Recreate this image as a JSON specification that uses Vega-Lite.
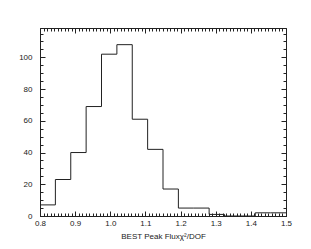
{
  "$schema": "https://vega.github.io/schema/vega-lite/v6.json",
  "width": 246,
  "height": 188,
  "autosize": "none",
  "padding": {"left": 40, "top": 28, "right": 25, "bottom": 33},
  "background": "white",
  "config": {
    "view": {"stroke": "#222222", "strokeWidth": 1},
    "font": "Liberation Sans",
    "axis": {
      "domain": false,
      "grid": false,
      "tickColor": "#222222",
      "labelColor": "#222222",
      "titleColor": "#222222",
      "labelFont": "Liberation Sans",
      "titleFont": "Liberation Sans",
      "labelFontSize": 8,
      "titleFontSize": 8,
      "titleFontWeight": "normal",
      "labelFlush": false
    }
  },
  "data": {
    "values": [
      {"x": 0.8, "n": 7},
      {"x": 0.84375, "n": 23},
      {"x": 0.8875, "n": 40},
      {"x": 0.93125, "n": 69},
      {"x": 0.975, "n": 102},
      {"x": 1.01875, "n": 108},
      {"x": 1.0625, "n": 61},
      {"x": 1.10625, "n": 42},
      {"x": 1.15, "n": 17},
      {"x": 1.19375, "n": 5},
      {"x": 1.2375, "n": 5},
      {"x": 1.28125, "n": 1},
      {"x": 1.325, "n": 0},
      {"x": 1.36875, "n": 0},
      {"x": 1.4125, "n": 2},
      {"x": 1.45625, "n": 2},
      {"x": 1.5, "n": 2}
    ]
  },
  "resolve": {"axis": {"x": "independent", "y": "independent"}},
  "layer": [
    {
      "mark": {"type": "line", "interpolate": "step-after", "opacity": 0},
      "encoding": {
        "x": {"field": "x", "type": "quantitative", "scale": {"domain": [0.8, 1.5], "nice": false, "zero": false},
          "axis": {"orient": "bottom", "values": [0.8,0.81,0.82,0.83,0.84,0.85,0.86,0.87,0.88,0.89,0.9,0.91,0.92,0.93,0.94,0.95,0.96,0.97,0.98,0.99,1.0,1.01,1.02,1.03,1.04,1.05,1.06,1.07,1.08,1.09,1.1,1.11,1.12,1.13,1.14,1.15,1.16,1.17,1.18,1.19,1.2,1.21,1.22,1.23,1.24,1.25,1.26,1.27,1.28,1.29,1.3,1.31,1.32,1.33,1.34,1.35,1.36,1.37,1.38,1.39,1.4,1.41,1.42,1.43,1.44,1.45,1.46,1.47,1.48,1.49,1.5], "labels": false, "title": null, "tickSize": -3}},
        "y": {"field": "n", "type": "quantitative", "scale": {"domain": [0, 118.5], "nice": false},
          "axis": {"orient": "left", "values": [0,5,10,15,20,25,30,35,40,45,50,55,60,65,70,75,80,85,90,95,100,105,110,115], "labels": false, "title": null, "tickSize": -3}}
      }
    },
    {
      "mark": {"type": "line", "interpolate": "step-after", "opacity": 0},
      "encoding": {
        "x": {"field": "x", "type": "quantitative",
          "axis": {"orient": "top", "values": [0.8,0.81,0.82,0.83,0.84,0.85,0.86,0.87,0.88,0.89,0.9,0.91,0.92,0.93,0.94,0.95,0.96,0.97,0.98,0.99,1.0,1.01,1.02,1.03,1.04,1.05,1.06,1.07,1.08,1.09,1.1,1.11,1.12,1.13,1.14,1.15,1.16,1.17,1.18,1.19,1.2,1.21,1.22,1.23,1.24,1.25,1.26,1.27,1.28,1.29,1.3,1.31,1.32,1.33,1.34,1.35,1.36,1.37,1.38,1.39,1.4,1.41,1.42,1.43,1.44,1.45,1.46,1.47,1.48,1.49,1.5], "labels": false, "title": null, "tickSize": -3}},
        "y": {"field": "n", "type": "quantitative",
          "axis": {"orient": "right", "values": [0,5,10,15,20,25,30,35,40,45,50,55,60,65,70,75,80,85,90,95,100,105,110,115], "labels": false, "title": null, "tickSize": -3}}
      }
    },
    {
      "mark": {"type": "line", "interpolate": "step-after", "opacity": 0},
      "encoding": {
        "x": {"field": "x", "type": "quantitative",
          "axis": {"orient": "top", "values": [0.8,0.9,1.0,1.1,1.2,1.3,1.4,1.5], "labels": false, "title": null, "tickSize": -5}},
        "y": {"field": "n", "type": "quantitative",
          "axis": {"orient": "right", "values": [0,20,40,60,80,100], "labels": false, "title": null, "tickSize": -5}}
      }
    },
    {
      "mark": {"type": "line", "interpolate": "step-after", "opacity": 0},
      "encoding": {
        "x": {"field": "x", "type": "quantitative",
          "axis": {"orient": "bottom", "values": [0.8,0.9,1.0,1.1,1.2,1.3,1.4,1.5], "labels": false, "title": null, "tickSize": -5}},
        "y": {"field": "n", "type": "quantitative",
          "axis": {"orient": "left", "values": [0,20,40,60,80,100], "labels": false, "title": null, "tickSize": -5}}
      }
    },
    {
      "mark": {"type": "line", "interpolate": "step-after", "color": "#222222", "strokeWidth": 1},
      "encoding": {
        "x": {"field": "x", "type": "quantitative",
          "axis": {"orient": "bottom", "values": [0.8,0.9,1.0,1.1,1.2,1.3,1.4,1.5], "format": ".1f", "ticks": false, "labelPadding": 3, "title": "BEST Peak Fluxχ²/DOF", "titlePadding": 5}},
        "y": {"field": "n", "type": "quantitative",
          "axis": {"orient": "left", "values": [0,20,40,60,80,100], "ticks": false, "labelPadding": 8, "title": null}}
      }
    }
  ]
}
